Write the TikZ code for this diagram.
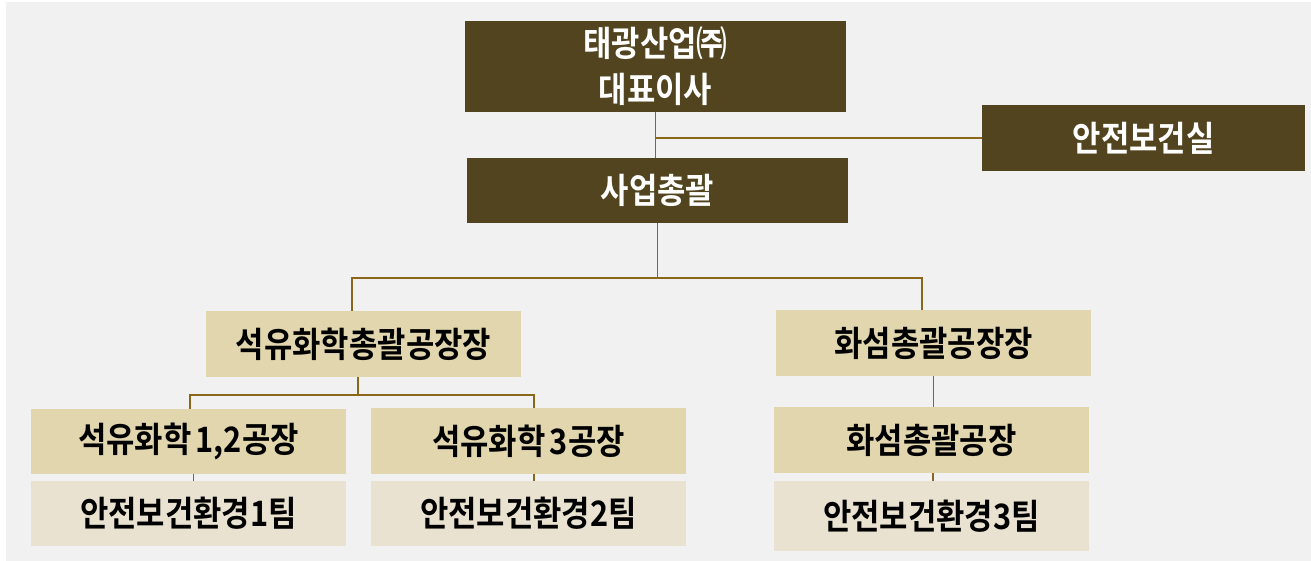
\documentclass[tikz,border=0pt]{standalone}
\usepackage{fontspec}
\usepackage{tikz}
\newfontfamily\krfont[FakeStretch=0.88]{Noto Sans CJK KR Bold}

\tikzset{
  orgbox/.style={
    rectangle, inner sep=0pt, align=center,
    font=\krfont\fontsize{35}{46}\selectfont,
  },
}

\begin{document}
\begin{tikzpicture}[x=1pt, y=-1pt]
% Defining colors
\definecolor{headbrown}{RGB}{81, 68, 31}
\definecolor{mgrbeige}{RGB}{225, 214, 174}
\definecolor{teambeige}{RGB}{233, 226, 209}
\definecolor{linkgold}{RGB}{139, 104, 25}
\definecolor{paper}{RGB}{241, 241, 241}

\tikzset{
  headbox/.style={orgbox, fill=headbrown, text=white},
  mgrbox/.style={orgbox, fill=mgrbeige, text=black},
  teambox/.style={orgbox, fill=teambeige, text=black},
  link/.style={draw=linkgold, line width=1.8pt},
}

% Background
\useasboundingbox (0, 0) rectangle (1311, 561);
\fill[paper] (6, 2) rectangle (1311, 561);

% =:=:=:=:=:=:=:=:=:=:=:=:=:=:=:=:=:=:=
% Top level
% =:=:=:=:=:=:=:=:=:=:=:=:=:=:=:=:=:=:=
\node[headbox, minimum width=381pt, minimum height=91pt]
    (ceo) at (655.5, 66.5)
    {태광산업㈜\\대표이사};

\node[headbox, minimum width=381pt, minimum height=65pt]
    (biz) at (657.5, 190.5)
    {사업총괄};

\node[headbox, minimum width=323pt, minimum height=66pt]
    (safety) at (1143.5, 138)
    {안전보건실};

% =:=:=:=:=:=:=:=:=:=:=:=:=:=:=:=:=:=:=
% Plant heads
% =:=:=:=:=:=:=:=:=:=:=:=:=:=:=:=:=:=:=
\node[mgrbox, minimum width=315pt, minimum height=66pt]
    (pet) at (363.5, 344)
    {석유화학총괄공장장};

\node[mgrbox, minimum width=315pt, minimum height=66pt]
    (fib) at (933.5, 343)
    {화섬총괄공장장};

% =:=:=:=:=:=:=:=:=:=:=:=:=:=:=:=:=:=:=
% Plants
% =:=:=:=:=:=:=:=:=:=:=:=:=:=:=:=:=:=:=
\node[mgrbox, minimum width=315pt, minimum height=65pt]
    (pet12) at (188.5, 441.5)
    {석유화학\hspace{0.12em}1,2공장};

\node[mgrbox, minimum width=315pt, minimum height=66pt]
    (pet3) at (528.5, 441)
    {석유화학\hspace{0.12em}3공장};

\node[mgrbox, minimum width=315pt, minimum height=66pt]
    (fibp) at (931.5, 440)
    {화섬총괄공장};

% =:=:=:=:=:=:=:=:=:=:=:=:=:=:=:=:=:=:=
% Safety teams
% =:=:=:=:=:=:=:=:=:=:=:=:=:=:=:=:=:=:=
\node[teambox, minimum width=315pt, minimum height=65pt]
    (team1) at (188.5, 513.5)
    {안전보건환경1팀};

\node[teambox, minimum width=315pt, minimum height=65pt]
    (team2) at (528.5, 513.5)
    {안전보건환경2팀};

\node[teambox, minimum width=315pt, minimum height=70pt]
    (team3) at (931.5, 516)
    {안전보건환경3팀};

% =:=:=:=:=:=:=:=:=:=:=:=:=:=:=:=:=:=:=
% Connectors
% =:=:=:=:=:=:=:=:=:=:=:=:=:=:=:=:=:=:=
\coordinate (bizsplit) at (657.5, 278);
\coordinate (petsplit) at (358, 395);

\draw[link] (ceo.south) -- (ceo.south |- biz.north);
\draw[link] (ceo.south |- safety.west) -- (safety.west);

\draw[link] (biz.south) -- (bizsplit);
\draw[link]
    ([xshift=-11.5pt]pet.north) |- (bizsplit)
    -| ([xshift=-11.5pt]fib.north);

\draw[link] ([xshift=-5.5pt]pet.south) -- (petsplit);
\draw[link]
    ([xshift=1.5pt]pet12.north) |- (petsplit)
    -| ([xshift=5.5pt]pet3.north);

\draw[link] ([xshift=5pt]pet12.south) -- ([xshift=5pt]team1.north);
\draw[link] ([xshift=5.5pt]pet3.south) -- ([xshift=5.5pt]team2.north);

\draw[link] (fib.south) -- (fib.south |- fibp.north);
\draw[link] ([xshift=1.5pt]fibp.south) -- ([xshift=1.5pt]team3.north);

\end{tikzpicture}
\end{document}
